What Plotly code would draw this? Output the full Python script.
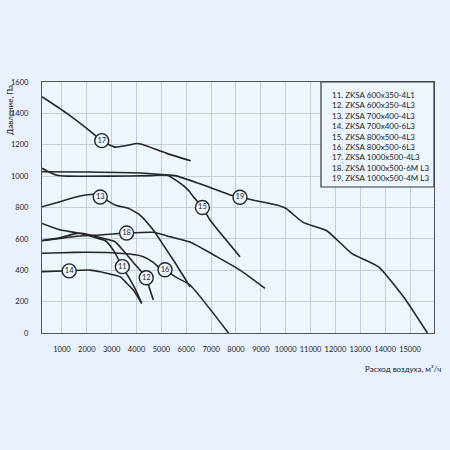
import plotly.graph_objects as go

# ---- data ----
series_names = [
    "11. ZKSA 600x350-4L1",
    "12. ZKSA 600x350-4L3",
    "13. ZKSA 700x400-4L3",
    "14. ZKSA 700x400-6L3",
    "15. ZKSA 800x500-4L3",
    "16. ZKSA 800x500-6L3",
    "17. ZKSA 1000x500-4L3",
    "18. ZKSA 1000x500-6M L3",
    "19. ZKSA 1000x500-4M L3",
]
curve_ids = ["11", "12", "13", "14", "15", "16", "17", "18", "19"]

flow_11 = [197, 900, 1700, 2300, 2750, 3100, 3420, 3670, 3950, 4208]
pres_11 = [698, 658, 636, 610, 588, 520, 423, 359, 280, 189]

flow_12 = [197, 800, 1500, 1800, 2400, 2800, 3134, 3500, 3870, 4400, 4480, 4675]
pres_12 = [590, 603, 632, 635, 614, 598, 582, 520, 450, 352, 306, 210]

flow_13 = [197, 921, 1726, 2329, 2558, 3134, 3669, 4139, 4674, 5077, 5479, 6150]
pres_13 = [805, 837, 873, 884, 869, 816, 795, 752, 656, 561, 465, 295]

flow_14 = [197, 1323, 2128, 2529, 2932, 3335, 3604, 3870, 4208]
pres_14 = [391, 397, 401, 391, 376, 359, 317, 274, 189]

flow_15 = [197, 500, 800, 1200, 3000, 4500, 5213, 5751, 6082, 6284, 6650, 6955, 8162]
pres_15 = [1050, 1025, 1006, 1000, 1000, 1003, 1007, 955, 911, 869, 800, 720, 486]

flow_16 = [197, 1000, 2000, 3000, 3600, 4006, 4272, 4674, 4944, 5145, 5547, 6150, 7696]
pres_16 = [508, 512, 515, 512, 505, 497, 486, 450, 412, 401, 359, 306, 0]

flow_17 = [197, 1200, 2329, 2600, 3134, 3600, 4000, 4208, 5213, 6179]
pres_17 = [1506, 1400, 1262, 1226, 1185, 1195, 1208, 1203, 1145, 1098]

flow_18 = [197, 1000, 1726, 2529, 3600, 4674, 5346, 6150, 7224, 8162, 9167]
pres_18 = [588, 605, 618, 625, 637, 642, 614, 580, 487, 401, 285]

flow_19 = [197, 2000, 4200, 5213, 5550, 6690, 7760, 8160, 9640, 10000, 10700,
           11650, 12650, 13725, 14730, 15700]
pres_19 = [1028, 1026, 1020, 1007, 1003, 943, 880, 865, 816, 795, 705,
           652, 508, 423, 232, 0]

label_flow = [3430, 4390, 2540, 1290, 6650, 5145, 2600, 3600, 8160]
label_pres = [423, 352, 867, 396, 800, 403, 1226, 637, 865]

x_ticks = list(range(1000, 16000, 1000))
x_tick_labels = [str(v) for v in x_ticks]
y_ticks = list(range(0, 1700, 200))
y_tick_labels = [str(v) for v in y_ticks]

curves = [
    (flow_11, pres_11), (flow_12, pres_12), (flow_13, pres_13),
    (flow_14, pres_14), (flow_15, pres_15), (flow_16, pres_16),
    (flow_17, pres_17), (flow_18, pres_18), (flow_19, pres_19),
]

# ---- styling ----
BG = "#e9f2fc"
PLOT_BG = "#edf5fd"
LINE = "#262626"
GRID = "#c5ced8"
FONT = "Lato"

fig = go.Figure()
for name, (xs, ys) in zip(series_names, curves):
    fig.add_trace(go.Scatter(
        x=xs, y=ys, mode="lines", name=name,
        line=dict(color=LINE, width=1.6, shape="spline", smoothing=0.5),
        showlegend=False, hoverinfo="skip",
    ))

fig.add_trace(go.Scatter(
    x=label_flow, y=label_pres, mode="markers+text", text=curve_ids,
    textposition="middle center",
    textfont=dict(family=FONT, size=7.5, color=LINE),
    marker=dict(size=14, color=PLOT_BG, line=dict(color=LINE, width=1.4)),
    showlegend=False, hoverinfo="skip",
))

L, R, T, B = 42, 16, 82, 117
W = 450 - L - R
H = 450 - T - B

def px(xp):
    return (xp - L) / W

def py(yp):
    return (450 - B - yp) / H

fig.add_shape(type="rect", xref="paper", yref="paper",
              x0=px(321), x1=1.0, y0=py(187), y1=1.0,
              line=dict(color="#3a3a3a", width=1.2), fillcolor=PLOT_BG, layer="above")
fig.add_annotation(xref="paper", yref="paper", x=px(330), y=py(88),
                   xanchor="left", yanchor="top", align="left", showarrow=False,
                   text="<br>".join(series_names),
                   font=dict(family=FONT, size=8, color="#222"))

fig.add_annotation(xref="paper", yref="paper", x=px(10), y=py(110),
                   xanchor="center", yanchor="middle",
                   textangle=-90, showarrow=False, text="Давление, Па",
                   font=dict(family=FONT, size=8, color="#222"))
fig.add_annotation(xref="paper", yref="paper", x=px(443), y=py(369),
                   xanchor="right", yanchor="middle", showarrow=False,
                   text="Расход воздуха, м³/ч",
                   font=dict(family=FONT, size=8, color="#222"))

fig.update_layout(
    width=450, height=450,
    margin=dict(l=L, r=R, t=T, b=B),
    paper_bgcolor=BG, plot_bgcolor=PLOT_BG,
    font=dict(family=FONT, size=7.5, color="#222"),
)
fig.update_xaxes(range=[197, 15965], tickvals=x_ticks, ticktext=x_tick_labels,
                 showgrid=True, gridcolor=GRID, gridwidth=1, showline=True,
                 linecolor="#555", linewidth=1.2, mirror=True, zeroline=False,
                 ticks="", ticklabelstandoff=9, tickfont=dict(family=FONT, size=7.5))
fig.update_yaxes(range=[0, 1600], tickvals=y_ticks, ticktext=y_tick_labels,
                 showgrid=True, gridcolor=GRID, gridwidth=1, showline=True,
                 linecolor="#555", linewidth=1.2, mirror=True, zeroline=False,
                 ticks="", ticklabelstandoff=11, tickfont=dict(family=FONT, size=7.5))

fig.write_html(
    "out.html",
    config={"displayModeBar": False},
    post_script="document.body.style.margin='0';document.body.style.background='%s';" % BG,
)
